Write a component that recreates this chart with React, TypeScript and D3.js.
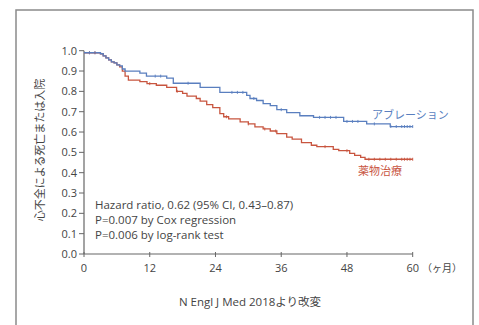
import React from 'react';
import * as d3 from 'd3';

// Kaplan-Meier step data: [month, survival]
const ablationSteps: [number, number][] = [
  [0, 0.99], [3.0, 0.985], [3.5, 0.975], [4.0, 0.965], [4.5, 0.955], [5.0, 0.945],
  [5.5, 0.94], [6.0, 0.93], [6.5, 0.925], [7.0, 0.91], [7.5, 0.90], [10.2, 0.89],
  [11.4, 0.875], [15.1, 0.865], [16.3, 0.84], [21.2, 0.82], [24.8, 0.795], [29.7, 0.78],
  [30.3, 0.765], [31.5, 0.755], [32.7, 0.74], [34.0, 0.73], [35.2, 0.71], [37.0, 0.695],
  [39.4, 0.68], [41.9, 0.672], [47.4, 0.652], [51.6, 0.64], [55.9, 0.627], [60, 0.627],
];

const drugSteps: [number, number][] = [
  [0, 0.99], [3.0, 0.985], [3.5, 0.975], [4.0, 0.965], [4.5, 0.955], [5.0, 0.945],
  [5.5, 0.94], [6.0, 0.93], [6.5, 0.92], [7.0, 0.90], [7.5, 0.875], [8.1, 0.855],
  [10.2, 0.848], [11.5, 0.838], [13.2, 0.83], [15.1, 0.82], [16.9, 0.80], [18.0, 0.79],
  [18.8, 0.777], [20.5, 0.765], [21.2, 0.752], [22.4, 0.735], [23.5, 0.72], [24.8, 0.69],
  [25.5, 0.675], [26.4, 0.665], [28.5, 0.65], [30.0, 0.64], [31.2, 0.625], [32.7, 0.615],
  [34.0, 0.605], [35.2, 0.592], [37.0, 0.575], [38.0, 0.565], [39.7, 0.548], [41.5, 0.535],
  [42.5, 0.528], [45.5, 0.515], [46.5, 0.508], [48.5, 0.495], [49.4, 0.485], [50.5, 0.475],
  [51.3, 0.466], [60, 0.466],
];

// censored observations (months)
const ablationCensor = [1, 2, 13, 14, 19, 27, 28, 29, 31, 36, 43, 44, 45, 46, 48, 49, 50, 53, 56, 57, 58, 58.5, 59, 59.5, 60];
const drugCensor = [1, 2, 12, 17, 26, 30, 33, 35, 44, 48, 52, 53, 54, 55, 56, 57, 58, 58.5, 59, 59.5, 60];

const xTicks = [0, 12, 24, 36, 48, 60];
const yTicks = [0, 0.1, 0.2, 0.3, 0.4, 0.5, 0.6, 0.7, 0.8, 0.9, 1.0];

const statLines = [
  'Hazard ratio, 0.62 (95% CI, 0.43–0.87)',
  'P=0.007 by Cox regression',
  'P=0.006 by log-rank test',
];

const BLUE = '#5a7fbf';
const RED = '#c8553f';
const INK = '#444';
const FONT = '"Open Sans", "Noto Sans", sans-serif';
const JP = '"Noto Sans CJK JP", sans-serif';

export default function App() {
  const x = d3.scaleLinear().domain([0, 60]).range([84, 412.7]);
  const y = d3.scaleLinear().domain([0, 1]).range([254, 50.7]);

  const line = d3.line<[number, number]>()
    .x(d => x(d[0]))
    .y(d => y(d[1]))
    .curve(d3.curveStepAfter);

  const valueAt = (steps: [number, number][], t: number) => {
    let v = steps[0][1];
    for (const s of steps) if (s[0] <= t) v = s[1];
    return v;
  };

  return (
    <svg width={479} height={325} style={{ position: 'absolute', left: 0, top: 0 }}>
      <rect x={0} y={0} width={479} height={325} fill="#fff" />
      <rect x={16} y={10} width={457} height={330} fill="none" stroke="#8a8a8a" strokeWidth={1.5} />

      {/* axes */}
      <line x1={x(0)} x2={x(0)} y1={y(1)} y2={y(0)} stroke="#666" strokeWidth={1.2} />
      <line x1={x(0)} x2={x(60)} y1={y(0)} y2={y(0)} stroke="#666" strokeWidth={1.2} />
      {yTicks.map(t => (
        <g key={t}>
          <line x1={x(0) - 5} x2={x(0)} y1={y(t)} y2={y(t)} stroke="#666" strokeWidth={1} />
          <text x={x(0) - 7} y={y(t)} dy="0.35em" textAnchor="end" fontSize={11} fontFamily={FONT} fill={INK}>
            {t.toFixed(1)}
          </text>
        </g>
      ))}
      {xTicks.map(t => (
        <g key={t}>
          <line x1={x(t)} x2={x(t)} y1={y(0) - 2} y2={y(0) + 3} stroke="#666" strokeWidth={1} />
          <text x={x(t)} y={y(0) + 18} textAnchor="middle" fontSize={11} fontFamily={FONT} fill={INK}>
            {t}
          </text>
        </g>
      ))}
      <text x={442} y={y(0) + 18} textAnchor="middle" fontSize={10} fontFamily={JP} fill={INK}>（ヶ月）</text>

      <text transform={`translate(40,150) rotate(-90)`} textAnchor="middle" dy="0.35em"
        fontSize={11} fontFamily={JP} fill={INK}>心不全による死亡または入院</text>

      {/* curves */}
      <path d={line(drugSteps) ?? ''} fill="none" stroke={RED} strokeWidth={1.3} />
      <path d={line(ablationSteps) ?? ''} fill="none" stroke={BLUE} strokeWidth={1.3} />
      {drugCensor.map((t, i) => (
        <line key={'d' + i} x1={x(t)} x2={x(t)} y1={y(valueAt(drugSteps, t)) - 1.5} y2={y(valueAt(drugSteps, t)) + 1.5}
          stroke={RED} strokeWidth={0.9} />
      ))}
      {ablationCensor.map((t, i) => (
        <line key={'a' + i} x1={x(t)} x2={x(t)} y1={y(valueAt(ablationSteps, t)) - 1.5} y2={y(valueAt(ablationSteps, t)) + 1.5}
          stroke={BLUE} strokeWidth={0.9} />
      ))}

      {/* series labels */}
      <text x={372} y={119} fontSize={11} fontFamily={JP} fill={BLUE}>アブレーション</text>
      <text x={358} y={175} fontSize={11} fontFamily={JP} fill={RED}>薬物治療</text>

      {/* statistics */}
      {statLines.map((s, i) => (
        <text key={s} x={95} y={209 + i * 15} fontSize={11.5} fontFamily={FONT} fill={INK}>{s}</text>
      ))}

      <text x={250} y={306} textAnchor="middle" fontSize={11.5} fontFamily={FONT} fill={INK}>
        N Engl J Med 2018<tspan fontFamily={JP}>より改変</tspan>
      </text>
    </svg>
  );
}
